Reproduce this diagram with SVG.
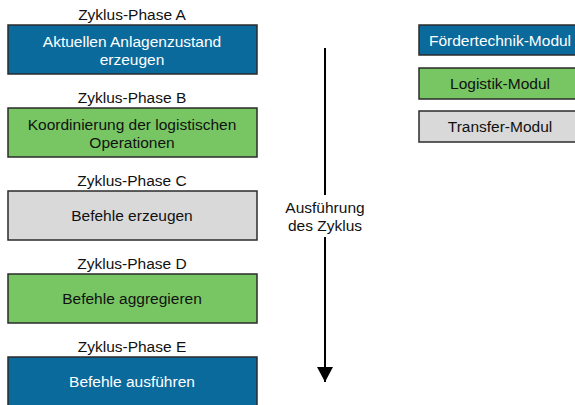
<svg xmlns="http://www.w3.org/2000/svg" width="575" height="405" viewBox="0 0 575 405">
<defs>
<style>
text{font-family:"Liberation Sans",Arial,sans-serif;font-size:15.5px;text-anchor:middle;fill:#111}
.box{stroke:#2b2b2b;stroke-width:1.5}
.blue{fill:#0A6A9C}
.green{fill:#77C663}
.gray{fill:#D9D9D9}
.w{fill:#fff}
</style>
<marker id="ah" markerWidth="16" markerHeight="16" refX="15" refY="8" orient="auto" markerUnits="userSpaceOnUse" viewBox="0 0 16 16">
<path d="M0,0 L15,8 L0,16 Z" fill="#000"/>
</marker>
</defs>
<rect width="575" height="405" fill="#fff"/>
<g id="phaseA">
<text x="132" y="20">Zyklus-Phase A</text>
<rect class="box blue" x="8" y="25" width="249" height="49"/>
<text class="w" x="132" y="47">Aktuellen Anlagenzustand</text>
<text class="w" x="132" y="65">erzeugen</text>
</g>
<g id="phaseB">
<text x="132" y="103">Zyklus-Phase B</text>
<rect class="box green" x="8" y="108" width="249" height="49"/>
<text x="132" y="130">Koordinierung der logistischen</text>
<text x="132" y="148">Operationen</text>
</g>
<g id="phaseC">
<text x="132" y="186">Zyklus-Phase C</text>
<rect class="box gray" x="8" y="191" width="249" height="49"/>
<text x="132" y="221">Befehle erzeugen</text>
</g>
<g id="phaseD">
<text x="132" y="269">Zyklus-Phase D</text>
<rect class="box green" x="8" y="274" width="249" height="49"/>
<text x="132" y="304">Befehle aggregieren</text>
</g>
<g id="phaseE">
<text x="132" y="352">Zyklus-Phase E</text>
<rect class="box blue" x="8" y="357" width="249" height="49"/>
<text class="w" x="132" y="387">Befehle ausführen</text>
</g>
<g id="legend1">
<rect class="box blue" x="419" y="25" width="162" height="30"/>
<text class="w" x="500" y="46">Fördertechnik-Modul</text>
</g>
<g id="legend2">
<rect class="box green" x="419" y="68" width="162" height="31"/>
<text x="500" y="89">Logistik-Modul</text>
</g>
<g id="legend3">
<rect class="box gray" x="419" y="111" width="162" height="31"/>
<text x="500" y="132">Transfer-Modul</text>
</g>
<g id="connectors">
<line x1="325" y1="48" x2="325" y2="195" stroke="#000" stroke-width="2"/>
<line x1="325" y1="237" x2="325" y2="382" stroke="#000" stroke-width="2" marker-end="url(#ah)"/>
<text x="325" y="213">Ausführung</text>
<text x="325" y="231">des Zyklus</text>
</g>
</svg>
